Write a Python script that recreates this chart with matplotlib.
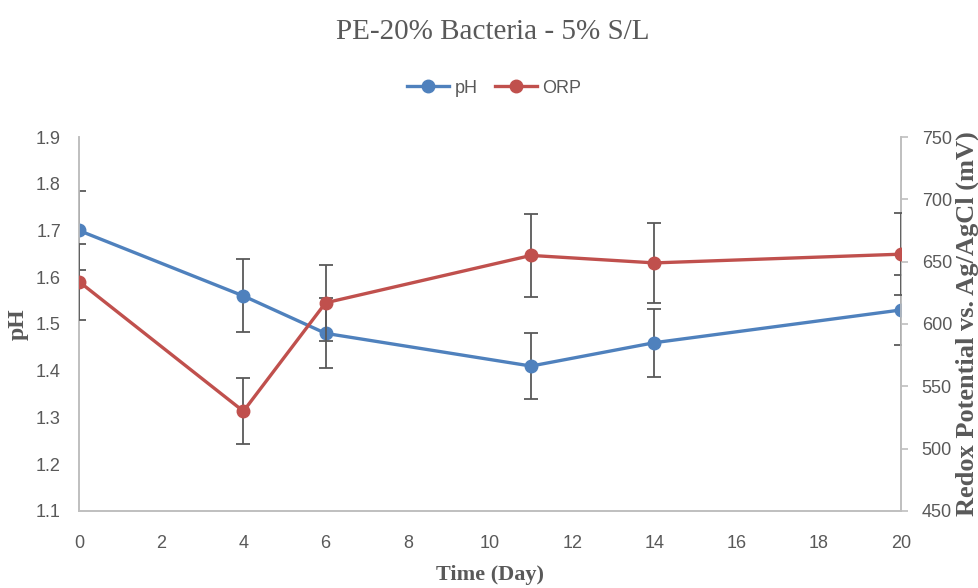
import matplotlib
matplotlib.use("Agg")
import matplotlib.pyplot as plt

days = [0, 4, 6, 11, 14, 20]
ph = [1.70, 1.56, 1.48, 1.41, 1.46, 1.53]
ph_err = [0.085, 0.078, 0.075, 0.071, 0.073, 0.075]
orp = [634, 530, 617, 655, 649, 656]
orp_err = [30.5, 26.5, 30.5, 33, 32, 33]

blue = "#4F81BD"
red = "#C0504D"
grey = "#595959"
spine = "#BFBFBF"
tick_font = "Liberation Sans"
serif = "Liberation Serif"

fig = plt.figure(figsize=(9.79, 5.88), dpi=100)
ax = fig.add_axes([0.0807, 0.131, 0.8396, 0.636])
ax2 = ax.twinx()

ax.errorbar(days, ph, yerr=ph_err, fmt="none", ecolor=grey, elinewidth=1.3, capsize=5, capthick=1.3, zorder=3)
l1, = ax.plot(days, ph, color=blue, lw=2.4, marker="o", ms=9, label="pH", zorder=4)
ax2.errorbar(days, orp, yerr=orp_err, fmt="none", ecolor=grey, elinewidth=1.3, capsize=5, capthick=1.3, zorder=3)
l2, = ax2.plot(days, orp, color=red, lw=2.4, marker="o", ms=9, label="ORP", zorder=4)

ax.set_xlim(0, 20)
ax.set_xticks(range(0, 21, 2))
ax.set_ylim(1.1, 1.9)
ax.set_yticks([1.1 + 0.1 * i for i in range(9)])
ax.set_yticklabels([f"{1.1 + 0.1 * i:.1f}" for i in range(9)])
ax2.set_ylim(450, 750)
ax2.set_yticks(range(450, 751, 50))

for a in (ax, ax2):
    for s in a.spines.values():
        s.set_color(spine)
        s.set_linewidth(1.2)
    a.spines["top"].set_visible(False)
ax.tick_params(axis="x", length=0, pad=17, colors=grey, labelsize=13)
ax.tick_params(axis="y", length=0, pad=13, colors=grey, labelsize=13)
ax2.tick_params(axis="y", length=5, width=1.2, color=spine, pad=10, labelcolor=grey, labelsize=13)
for lab in ax.get_xticklabels() + ax.get_yticklabels() + ax2.get_yticklabels():
    lab.set_fontfamily(tick_font)

ax.set_xlabel("Time (Day)", fontfamily=serif, fontweight="bold", fontsize=16, color=grey, va="center")
ax.xaxis.set_label_coords(0.5, -0.17)
ax.set_ylabel("pH", fontfamily=serif, fontweight="bold", fontsize=17, color=grey, va="center")
ax.yaxis.set_label_coords(-0.074, 0.5)
ax2.set_ylabel("Redox Potential vs. Ag/AgCl (mV)", fontfamily=serif, fontweight="bold", fontsize=19,
               color=grey, va="center")
ax2.yaxis.set_label_coords(1.0805, 0.5)

fig.text(0.503, 0.945, "PE-20% Bacteria - 5% S/L", ha="center", va="center",
         fontfamily=serif, fontsize=21, color=grey)
fig.legend(handles=[l1, l2], loc="center", bbox_to_anchor=(0.505, 0.85), ncol=2, frameon=False,
           prop={"family": tick_font, "size": 13}, labelcolor=grey, handlelength=2.3,
           columnspacing=1.0, handletextpad=0.3)

fig.savefig("out.png", dpi=100)
